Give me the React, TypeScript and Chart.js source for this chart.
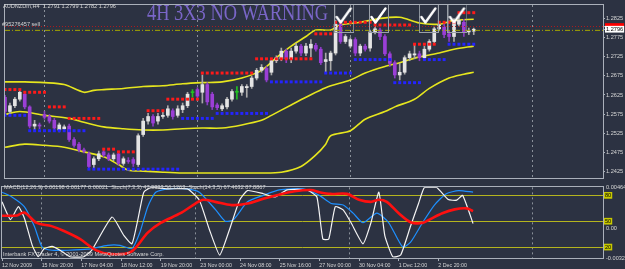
import React, { useEffect, useRef } from 'react';
import { Chart, registerables } from 'chart.js';

Chart.register(...registerables);

// ---------------- data ----------------
const timeLabels = ['12 Nov 2009', '15 Nov 20:00', '17 Nov 04:00', '18 Nov 12:00', '19 Nov 20:00', '23 Nov 00:00', '24 Nov 08:00', '25 Nov 16:00', '27 Nov 00:00', '30 Nov 04:00', '1 Dec 12:00', '2 Dec 20:00'];
const timeLabelBars = [0, 8, 16, 24, 32, 40, 48, 56, 64, 72, 80, 88];
const weekSeparatorBars = [8, 39, 70, 107];

const opens = [1.2619, 1.2582, 1.2597, 1.2614, 1.2627, 1.2594, 1.2544, 1.2547, 1.2574, 1.2569, 1.2559, 1.2534, 1.2537, 1.2544, 1.2509, 1.2497, 1.2482, 1.2472, 1.2444, 1.2459, 1.2477, 1.2469, 1.2459, 1.2472, 1.2447, 1.2454, 1.2457, 1.2444, 1.2522, 1.2557, 1.2569, 1.2557, 1.2569, 1.2572, 1.2584, 1.2572, 1.2587, 1.2597, 1.2632, 1.2639, 1.2632, 1.2652, 1.2627, 1.2599, 1.2589, 1.2594, 1.2614, 1.2632, 1.2632, 1.2644, 1.2647, 1.2669, 1.2689, 1.2694, 1.2684, 1.2714, 1.2719, 1.2739, 1.2719, 1.2739, 1.2752, 1.2734, 1.2747, 1.2754, 1.2744, 1.2712, 1.2714, 1.2734, 1.2809, 1.2764, 1.2752, 1.2769, 1.2734, 1.2752, 1.2747, 1.2789, 1.2794, 1.2777, 1.2732, 1.2709, 1.2677, 1.2684, 1.2722, 1.2729, 1.2732, 1.2722, 1.2744, 1.2764, 1.2797, 1.2802, 1.2784, 1.2777, 1.2809, 1.2814, 1.2789, 1.2791];
const highs = [1.2624, 1.2604, 1.2619, 1.2637, 1.2632, 1.2597, 1.2559, 1.2552, 1.2582, 1.2574, 1.2564, 1.2552, 1.2547, 1.2549, 1.2514, 1.2502, 1.2487, 1.2477, 1.2464, 1.2479, 1.2482, 1.2474, 1.2474, 1.2477, 1.2464, 1.2462, 1.2462, 1.2524, 1.2564, 1.2577, 1.2574, 1.2577, 1.2582, 1.2597, 1.2589, 1.2597, 1.2604, 1.2632, 1.2639, 1.2644, 1.2677, 1.2657, 1.2632, 1.2604, 1.2602, 1.2619, 1.2639, 1.2647, 1.2652, 1.2652, 1.2674, 1.2694, 1.2704, 1.2699, 1.2719, 1.2727, 1.2747, 1.2744, 1.2747, 1.2759, 1.2757, 1.2759, 1.2769, 1.2759, 1.2749, 1.2734, 1.2739, 1.2819, 1.2814, 1.2782, 1.2774, 1.2774, 1.2757, 1.2757, 1.2794, 1.2814, 1.2799, 1.2782, 1.2737, 1.2714, 1.2707, 1.2727, 1.2739, 1.2757, 1.2739, 1.2752, 1.2769, 1.2802, 1.2814, 1.2809, 1.2792, 1.2824, 1.2834, 1.2822, 1.2799, 1.2799];
const lows = [1.2577, 1.2574, 1.2592, 1.2609, 1.2589, 1.2539, 1.2534, 1.2537, 1.2562, 1.2552, 1.2534, 1.2529, 1.2532, 1.2504, 1.2489, 1.2477, 1.2474, 1.2434, 1.2434, 1.2454, 1.2464, 1.2454, 1.2454, 1.2442, 1.2442, 1.2447, 1.2439, 1.2439, 1.2517, 1.2549, 1.2544, 1.2549, 1.2564, 1.2567, 1.2562, 1.2567, 1.2579, 1.2592, 1.2619, 1.2617, 1.2604, 1.2599, 1.2587, 1.2587, 1.2584, 1.2589, 1.2609, 1.2614, 1.2624, 1.2619, 1.2642, 1.2664, 1.2684, 1.2659, 1.2677, 1.2709, 1.2714, 1.2709, 1.2709, 1.2734, 1.2727, 1.2727, 1.2724, 1.2739, 1.2704, 1.2684, 1.2689, 1.2729, 1.2759, 1.2759, 1.2747, 1.2727, 1.2727, 1.2739, 1.2739, 1.2784, 1.2769, 1.2727, 1.2699, 1.2669, 1.2664, 1.2679, 1.2714, 1.2719, 1.2714, 1.2717, 1.2739, 1.2759, 1.2792, 1.2774, 1.2764, 1.2764, 1.2804, 1.2777, 1.2782, 1.2782];
const closes = [1.2582, 1.2597, 1.2614, 1.2632, 1.2594, 1.2544, 1.2549, 1.2544, 1.2567, 1.2557, 1.2539, 1.2547, 1.2542, 1.2509, 1.2494, 1.2482, 1.2479, 1.2439, 1.2459, 1.2472, 1.2469, 1.2459, 1.2469, 1.2447, 1.2459, 1.2452, 1.2447, 1.2519, 1.2557, 1.2569, 1.2552, 1.2569, 1.2572, 1.2589, 1.2569, 1.2589, 1.2597, 1.2627, 1.2631, 1.2622, 1.2652, 1.2607, 1.2594, 1.2592, 1.2597, 1.2614, 1.2634, 1.2633, 1.2647, 1.2647, 1.2669, 1.2689, 1.2697, 1.2664, 1.2714, 1.2722, 1.2739, 1.2719, 1.2739, 1.2752, 1.2734, 1.2752, 1.2757, 1.2744, 1.2709, 1.2717, 1.2734, 1.2809, 1.2764, 1.2777, 1.2769, 1.2734, 1.2752, 1.2744, 1.2789, 1.2797, 1.2777, 1.2732, 1.2707, 1.2677, 1.2684, 1.2722, 1.2732, 1.2732, 1.2722, 1.2744, 1.2764, 1.2797, 1.2807, 1.2782, 1.2777, 1.2814, 1.2819, 1.2789, 1.2792, 1.2796];
const dojiBars = [38, 47];

const upperBandBars = [0, 4, 8, 12, 16, 18, 20, 24, 28, 32, 36, 40, 44, 48, 52, 55, 58, 61, 63, 66, 68, 72, 76, 80, 84, 88, 91, 95];
const upperBand = [1.2659, 1.2659, 1.2657, 1.2652, 1.2632, 1.2637, 1.2639, 1.2642, 1.2647, 1.2649, 1.2654, 1.2657, 1.2659, 1.2669, 1.2689, 1.2722, 1.2752, 1.2777, 1.2794, 1.2794, 1.2807, 1.2814, 1.2824, 1.2827, 1.2812, 1.2809, 1.2819, 1.2822];
const middleBandBars = [0, 3, 8, 13, 16, 20, 24, 28, 32, 36, 40, 44, 48, 52, 54, 58, 61, 65, 70, 73, 77, 80, 84, 88, 91, 95];
const middleBand = [1.2574, 1.2582, 1.2572, 1.2564, 1.2554, 1.2542, 1.2537, 1.2534, 1.2534, 1.2537, 1.2539, 1.2539, 1.2547, 1.2559, 1.2572, 1.2599, 1.2619, 1.2644, 1.2664, 1.2682, 1.2699, 1.2709, 1.2724, 1.2734, 1.2744, 1.2752];
const lowerBandBars = [0, 4, 8, 12, 16, 20, 23, 25, 28, 32, 36, 44, 52, 56, 60, 63, 65, 66, 70, 73, 77, 79, 83, 86, 90, 93, 95];
const lowerBand = [1.2489, 1.2497, 1.2494, 1.2489, 1.2477, 1.2464, 1.2444, 1.2429, 1.2427, 1.2424, 1.2422, 1.2422, 1.2422, 1.2424, 1.2439, 1.2469, 1.2497, 1.2519, 1.2532, 1.2562, 1.2582, 1.2594, 1.2614, 1.2642, 1.2669, 1.2679, 1.2684];

const resistanceFrom = [0, 4, 9, 13, 20, 23, 29, 33, 40, 51, 63, 67, 75, 83, 88, 92];
const resistanceTo = [3, 8, 12, 19, 22, 26, 32, 39, 50, 62, 66, 74, 82, 87, 91, 95];
const resistanceLevel = [1.2639, 1.2632, 1.2594, 1.2564, 1.2484, 1.2477, 1.2584, 1.2614, 1.2682, 1.2719, 1.2784, 1.2814, 1.2807, 1.2757, 1.2814, 1.2839];
const supportFrom = [0, 5, 17, 36, 43, 54, 65, 71, 79, 85, 90];
const supportTo = [4, 16, 35, 42, 53, 64, 70, 78, 84, 89, 95];
const supportLevel = [1.2572, 1.2532, 1.2432, 1.2564, 1.2577, 1.2659, 1.2682, 1.2717, 1.2657, 1.2717, 1.2757];

const askPrice = 1.2803;
const bidPrice = 1.2796;
const sellOrderPrice = 1.2793;
const priceTicks = [1.2425, 1.2475, 1.2525, 1.2575, 1.2625, 1.2675, 1.2725, 1.2775, 1.2825];
const checkBars = [68.75, 75.8, 85.9, 91.7];
const checkPrices = [1.2824, 1.2824, 1.2824, 1.2824];

const macdBars = [0, 3, 4.5, 7, 10, 12.5, 15.7, 19, 22, 26, 29.4, 32, 36, 39, 40.6, 43, 46.3, 49.5, 52.7, 56, 59, 62.3, 64, 66.3, 69.6, 72, 74.4, 76, 77.6, 80, 82.4, 84.8, 86.4, 88.8, 91.3, 93.7, 95];
const macdValues = [0.00147, 0.0015, 0.00183, 0.00067, 0.00031, -0.00023, -0.00112, -0.00239, -0.00282, -0.00257, -0.00041, 0.00067, 0.00175, 0.00283, 0.00326, 0.00302, 0.00266, 0.00283, 0.00337, 0.00385, 0.0042, 0.00434, 0.0041, 0.00391, 0.00391, 0.00326, 0.00302, 0.00326, 0.00302, 0.00175, 0.00075, 0.00067, 0.0011, 0.00175, 0.00218, 0.00229, 0.00198];
const stochFastBars = [0, 1.7, 3.3, 4.5, 6.1, 7.3, 8.5, 10.1, 11.7, 13.7, 16.5, 18.1, 22.2, 24.6, 26.2, 27.4, 28.6, 30.2, 33.4, 37.4, 39.8, 41.8, 43.9, 45.9, 47.9, 49.5, 52.7, 55.1, 57.5, 61.5, 63.5, 64.7, 65.9, 67.2, 68.8, 70.4, 72.8, 74.4, 76, 77.2, 78.8, 80.4, 82.4, 84, 85.2, 87.6, 90, 91.7, 92.9, 95];
const stochFastValues = [72.5, 51.9, 66.9, 53.8, 22, 8.8, 18, 20.8, 16.3, 8.8, 8.8, 16.3, 54.9, 33.2, 23.8, 51.9, 83.7, 89.4, 87.5, 87.5, 74.4, 40.7, 10.7, 40.7, 74.4, 85.6, 81.9, 78.1, 86.4, 86.4, 78.1, 29.4, 29.4, 66.9, 63.1, 48.2, 23.8, 48.2, 83.7, 33.2, 8.8, 10.7, 44.4, 70.6, 89.4, 89.4, 75.1, 74.4, 80, 47.3];
const stochSlowBars = [0, 2, 4.5, 6.5, 8.1, 10.1, 13.3, 17.3, 21.3, 23.8, 26.2, 27.8, 29.4, 31, 33.4, 37.4, 39.8, 43.1, 45, 46.7, 49.5, 52.7, 55.9, 60.7, 64, 66.4, 68.8, 70.8, 72.8, 75.6, 78, 80.8, 82.4, 84.8, 87.2, 89.6, 92.1, 95];
const stochSlowValues = [83.7, 78.1, 66.9, 44.4, 20, 16.3, 16.3, 17.5, 22, 22, 18.2, 36.9, 66.9, 83.7, 87.5, 87.5, 83.7, 63.1, 50, 51.9, 72.5, 80, 86.4, 87.5, 80, 70.6, 68.8, 59.4, 48.2, 59.4, 48.2, 20, 25.7, 48.2, 68.8, 81.9, 85.6, 83.7];
const stochLevels = [20, 50, 80];
const macdAxisTicks = [-0.00325, 0, 0.00464];
const macdAxisLabels = ['-0.00325', '0.00', '0.00464'];

const headerText = 'AUDNZDm,H4  1.2791 1.2799 1.2782 1.2796';
const orderText = '#95276457 sell';
const titleText = '4H 3X3 NO WARNING';
const indicatorText = 'MACD(12,26,9) 0.00198 0.00177 0.00021  Stoch(7,3,3) 47.3333 56.1263  Stoch(14,3,5) 67.4632 87.8867';
const footerText = 'Interbank FX Trader 4, \u00a9 2001-2009 MetaQuotes Software Corp.';

// ---------------- style ----------------
const BG = '#2c3242';
const FRAME = '#aab0ba';
const GRID = '#8a909a';
const TEXT = '#d6d6d6';
const BULL = '#e4e4e4';
const BULL_WICK = '#a9a9a9';
const BEAR = '#9b3fd6';
const BEAR_WICK = '#8a3cc2';
const DOJI = '#22c022';
const BAND = '#e6e61e';
const X_MAX = 121.2;
const FONT = "'Liberation Sans', Arial, sans-serif";

const framePlugin = {
  id: 'frame',
  afterLayout(chart: any) {
    // the stochastic level axis shares its place with the MACD axis; give its labels room
    const s = chart.scales.ys;
    if (s) {
      s.right = s.left + 22;
      s.width = 22;
    }
  },
  afterDraw(chart: any) {
    const { ctx, chartArea: a } = chart;
    ctx.save();
    ctx.strokeStyle = FRAME;
    ctx.lineWidth = 1;
    ctx.strokeRect(Math.round(a.left) - 0.5, Math.round(a.top) - 0.5, Math.round(a.right - a.left) + 1, Math.round(a.bottom - a.top) + 1);
    ctx.restore();
  },
};

const toPoints = (xs: number[], ys: number[]) => xs.map((x, k) => ({ x, y: ys[k] }));
const expandLevels = (from: number[], to: number[], lvl: number[]) =>
  from.flatMap((f, k) => {
    const pts: { x: number; y: number }[] = [];
    for (let i = f; i <= to[k]; i++) pts.push({ x: i, y: lvl[k] });
    return pts;
  });

export default function App() {
  const mainRef = useRef<HTMLCanvasElement>(null);
  const indRef = useRef<HTMLCanvasElement>(null);

  useEffect(() => {
    document.body.style.margin = '0';
    Chart.defaults.font.family = FONT;
    Chart.defaults.font.size = 5.6;

    const bars = opens.map((_, i) => i);
    const isBull = (i: number) => closes[i] >= opens[i];
    const bodyColors = bars.map((i) => (dojiBars.includes(i) ? DOJI : isBull(i) ? BULL : BEAR));
    const wickColors = bars.map((i) => (dojiBars.includes(i) ? DOJI : isBull(i) ? BULL_WICK : BEAR_WICK));

    const check = document.createElement('canvas');
    check.width = 20;
    check.height = 29;
    const g = check.getContext('2d')!;
    g.strokeStyle = '#9aa0a8';
    g.lineWidth = 1;
    g.strokeRect(0.5, 0.5, 19, 28);
    g.strokeStyle = '#ffffff';
    g.lineWidth = 2.4;
    g.lineCap = 'round';
    g.lineJoin = 'round';
    g.beginPath();
    g.moveTo(2.5, 13);
    g.lineTo(6.5, 18.5);
    g.lineTo(16.5, 4.5);
    g.stroke();

    const lineDs = (data: any[], color: string, width: number, order: number, extra: any = {}) => ({
      type: 'line', data, borderColor: color, borderWidth: width, pointRadius: 0, tension: 0.3, order, ...extra,
    });

    const main = new Chart(mainRef.current!, {
      type: 'bar',
      data: {
        datasets: [
          lineDs(toPoints(upperBandBars, upperBand), BAND, 1.6, 9),
          lineDs(toPoints(middleBandBars, middleBand), BAND, 1.6, 9),
          lineDs(toPoints(lowerBandBars, lowerBand), BAND, 1.6, 9),
          { type: 'bar', data: bars.map((i) => ({ x: i, y: [lows[i], highs[i]] })), backgroundColor: wickColors, barThickness: 1, grouped: false, order: 8 },
          { type: 'bar', data: bars.map((i) => ({ x: i, y: [opens[i], closes[i]] })), backgroundColor: bodyColors, barThickness: 3, grouped: false, minBarLength: 1, order: 7 },
          { type: 'scatter', data: expandLevels(resistanceFrom, resistanceTo, resistanceLevel), pointStyle: 'rect', pointRadius: 2.1, backgroundColor: '#ff1a1a', borderWidth: 0, order: 6 },
          { type: 'scatter', data: expandLevels(supportFrom, supportTo, supportLevel), pointStyle: 'rect', pointRadius: 2.1, backgroundColor: '#2424ff', borderWidth: 0, order: 6 },
          lineDs([{ x: 0, y: askPrice }, { x: X_MAX, y: askPrice }], '#b01c1c', 1, 3, { borderDash: [1, 2], tension: 0 }),
          lineDs([{ x: 0, y: sellOrderPrice }, { x: X_MAX, y: sellOrderPrice }], '#a4a400', 1, 3, { borderDash: [5, 2, 1, 2], tension: 0 }),
          { type: 'scatter', data: toPoints(checkBars, checkPrices), pointStyle: check, order: 1 },
        ] as any,
      },
      options: {
        animation: false,
        responsive: false,
        events: [],
        layout: { padding: { left: 2, top: 2, right: 0, bottom: 1 } },
        plugins: { legend: { display: false }, tooltip: { enabled: false } },
        scales: {
          x: {
            type: 'linear', min: 0, max: X_MAX, offset: false,
            afterFit: (s: any) => { s.height = 0; },
            afterBuildTicks: (s: any) => { s.ticks = weekSeparatorBars.map((v) => ({ value: v })); },
            ticks: { display: false },
            grid: { offset: false, drawTicks: false, color: GRID, lineWidth: 1 },
            border: { display: false, dash: [2, 3] },
          },
          y: {
            type: 'linear', position: 'right', min: 1.2409, max: 1.2859,
            afterFit: (s: any) => { s.width = 22; },
            afterBuildTicks: (s: any) => { s.ticks = [...priceTicks, askPrice, bidPrice].map((v) => ({ value: v })); },
            border: { display: true, color: FRAME },
            grid: { drawOnChartArea: false, drawTicks: true, tickLength: 2, color: FRAME },
            ticks: {
              autoSkip: false, padding: 1,
              color: (c: any) => (c.tick.value === bidPrice ? '#000000' : c.tick.value === askPrice ? '#ff0000' : TEXT),
              showLabelBackdrop: (c: any) => c.tick.value === bidPrice || c.tick.value === askPrice,
              backdropColor: (c: any) => (c.tick.value === bidPrice ? '#ffffff' : '#ff0000'),
              backdropPadding: { left: 1, right: 1, top: 0, bottom: 0 },
              callback: (v: any) => Number(v).toFixed(4),
            },
          },
        },
      } as any,
      plugins: [framePlugin],
    });

    const ind = new Chart(indRef.current!, {
      type: 'line',
      data: {
        datasets: [
          lineDs(toPoints(stochSlowBars, stochSlowValues), '#1e90ff', 1.2, 3, { yAxisID: 'ys', xAxisID: 'x', tension: 0.2 }),
          lineDs(toPoints(stochFastBars, stochFastValues), '#f4f4f4', 1.2, 2, { yAxisID: 'ys', xAxisID: 'x', tension: 0.15 }),
          lineDs(toPoints(macdBars, macdValues), '#ff1010', 2.6, 1, { yAxisID: 'y', xAxisID: 'x' }),
        ] as any,
      },
      options: {
        animation: false,
        responsive: false,
        events: [],
        layout: { padding: { left: 2, top: 4, right: 0, bottom: 0 } },
        plugins: { legend: { display: false }, tooltip: { enabled: false } },
        scales: {
          x: {
            type: 'linear', position: 'bottom', weight: 1, min: 0, max: X_MAX, offset: false,
            afterFit: (s: any) => { s.height = 11; },
            afterBuildTicks: (s: any) => { s.ticks = timeLabelBars.map((v) => ({ value: v })); },
            ticks: { autoSkip: false, maxRotation: 0, align: 'start', padding: 1, color: TEXT, font: { size: 5.3 }, callback: (v: any) => timeLabels[timeLabelBars.indexOf(Number(v))] },
            grid: { drawOnChartArea: false, drawTicks: true, tickLength: 3, color: FRAME },
            border: { display: true, color: FRAME },
          },
          xg: {
            type: 'linear', position: 'bottom', weight: 0, min: 0, max: X_MAX, offset: false,
            afterFit: (s: any) => { s.height = 0; },
            afterBuildTicks: (s: any) => { s.ticks = weekSeparatorBars.map((v) => ({ value: v })); },
            ticks: { display: false },
            grid: { drawTicks: false, color: GRID },
            border: { display: false, dash: [2, 3] },
          },
          y: {
            type: 'linear', position: 'right', weight: 1, min: -0.00325, max: 0.00464,
            afterFit: (s: any) => { s.width = 22; },
            afterBuildTicks: (s: any) => { s.ticks = macdAxisTicks.map((v) => ({ value: v })); },
            ticks: { autoSkip: false, padding: 3, color: TEXT, callback: (v: any) => macdAxisLabels[macdAxisTicks.indexOf(Number(v))] },
            grid: { drawOnChartArea: false, drawTicks: false },
            border: { display: true, color: FRAME },
          },
          ys: {
            type: 'linear', position: 'right', weight: 0, min: 7.3, max: 89.3,
            afterFit: (s: any) => { s.width = 0; },
            afterBuildTicks: (s: any) => { s.ticks = stochLevels.map((v) => ({ value: v })); },
            ticks: {
              autoSkip: false, padding: 2, color: '#000000', showLabelBackdrop: true, backdropColor: '#c8c800',
              backdropPadding: { left: 1, right: 1, top: 0, bottom: 0 }, callback: (v: any) => String(v),
            },
            grid: { drawOnChartArea: true, drawTicks: false, color: '#b4b41e' },
            border: { display: false },
          },
        },
      } as any,
      plugins: [framePlugin],
    });

    return () => {
      main.destroy();
      ind.destroy();
    };
  }, []);

  const txt = (extra: React.CSSProperties): React.CSSProperties => ({
    position: 'absolute', whiteSpace: 'pre', fontFamily: FONT, fontSize: '5.6px', lineHeight: '7px', color: TEXT, ...extra,
  });

  return (
    <div style={{ position: 'fixed', left: 0, top: 0, width: 625, height: 269, background: BG, overflow: 'hidden' }}>
      <canvas ref={mainRef} width={625} height={183} style={{ position: 'absolute', left: 0, top: 0 }} />
      <canvas ref={indRef} width={625} height={88} style={{ position: 'absolute', left: 0, top: 181 }} />
      <div style={txt({ left: 3, top: 2.5 })}>{headerText}</div>
      <div style={txt({ left: 2, top: 20.5 })}>{orderText}</div>
      <div style={{ position: 'absolute', left: 147, top: 1.2, fontFamily: "'Liberation Serif', serif", fontSize: '23px', lineHeight: '23px', color: '#7a66c8', whiteSpace: 'pre', transform: 'scaleX(0.8)', transformOrigin: 'left top' }}>{titleText}</div>
      <div style={txt({ left: 4, top: 184 })}>{indicatorText}</div>
      <div style={txt({ left: 3, top: 250.5 })}>{footerText}</div>
    </div>
  );
}
